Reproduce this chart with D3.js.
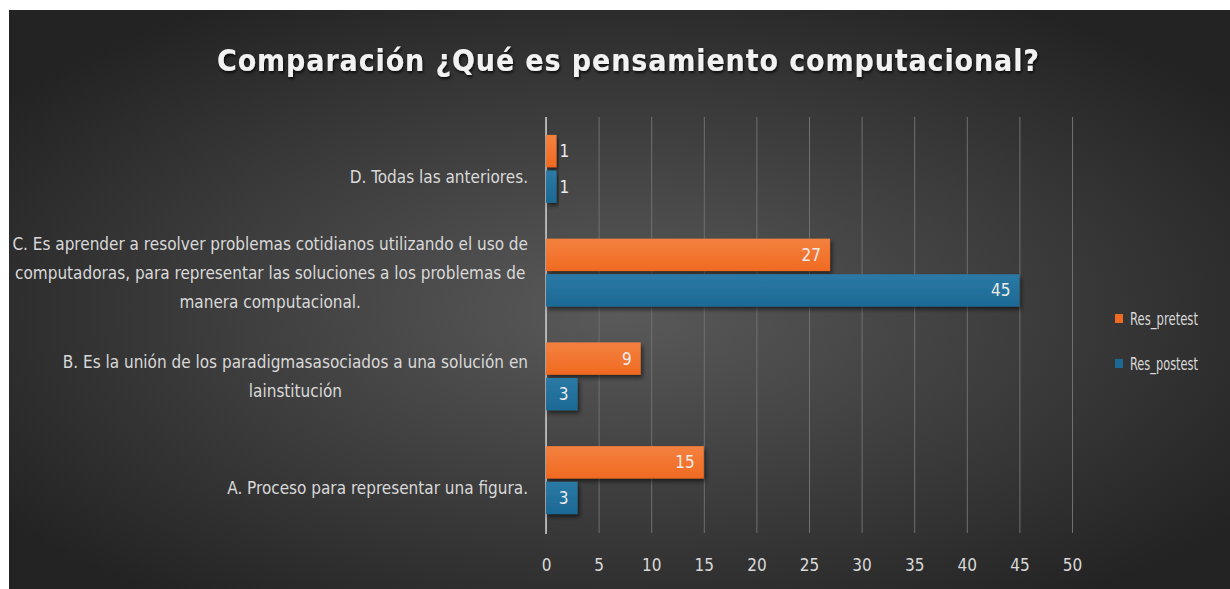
<!doctype html>
<html>
<head>
<meta charset="utf-8">
<script src="https://cdn.jsdelivr.net/npm/d3@7"></script>
<style>
  body { margin: 0; background: #fff; }
  svg text { font-family: "Liberation Sans Narrow", "DejaVu Sans Condensed", "Arial Narrow", sans-serif; }
</style>
</head>
<body>
<svg id="chart" width="1230" height="589"></svg>
<script>
// data
var categories = ["D. Todas las anteriores.",
  "C. Es aprender a resolver problemas cotidianos utilizando el uso de|computadoras, para representar las soluciones a los problemas de|manera computacional.",
  "B. Es la unión de los paradigmasasociados a una solución en|lainstitución",
  "A. Proceso para representar una figura."];
var seriesNames = ["Res_pretest", "Res_postest"];
var pretest = [1, 27, 9, 15];
var postest = [1, 45, 3, 3];
var xTicks = [0, 5, 10, 15, 20, 25, 30, 35, 40, 45, 50];
var colors = ["#f06a22", "#1c6994"];
var colorsLight = ["#f4813f", "#2b7aa6"];

var svg = d3.select("#chart");
var defs = svg.append("defs");

// background panel
var bg = defs.append("radialGradient").attr("id", "bg")
  .attr("cx", "50%").attr("cy", "52%").attr("r", "62%");
bg.append("stop").attr("offset", "0%").attr("stop-color", "#5a5a5a");
bg.append("stop").attr("offset", "100%").attr("stop-color", "#232323");
svg.append("rect").attr("x", 9).attr("y", 10).attr("width", 1221).attr("height", 579)
  .attr("fill", "url(#bg)");

seriesNames.forEach(function(s, i) {
  var g = defs.append("linearGradient").attr("id", "grad" + i)
    .attr("x1", 0).attr("y1", 0).attr("x2", 0).attr("y2", 1);
  g.append("stop").attr("offset", "0%").attr("stop-color", colorsLight[i]);
  g.append("stop").attr("offset", "100%").attr("stop-color", colors[i]);
});

var shadow = defs.append("filter").attr("id", "shadow")
  .attr("x", "-10%").attr("y", "-20%").attr("width", "130%").attr("height", "160%");
shadow.append("feDropShadow").attr("dx", 2).attr("dy", 3).attr("stdDeviation", 2)
  .attr("flood-color", "#000").attr("flood-opacity", 0.55);

var tshadow = defs.append("filter").attr("id", "tshadow");
tshadow.append("feDropShadow").attr("dx", 1).attr("dy", 2).attr("stdDeviation", 1.5)
  .attr("flood-color", "#000").attr("flood-opacity", 0.8);

// title
svg.append("text")
  .attr("x", 628).attr("y", 71)
  .attr("text-anchor", "middle")
  .attr("font-size", "30px")
  .attr("font-weight", "bold")
  .attr("fill", "#f2f2f2")
  .attr("textLength", 822).attr("lengthAdjust", "spacing")
  .attr("filter", "url(#tshadow)")
  .text("Comparación ¿Qué es pensamiento computacional?");

var x = d3.scaleLinear().domain([0, 50]).range([546, 1072]);
var y = d3.scaleBand().domain(categories).range([117, 532]).paddingInner(0.345).paddingOuter(0.1725);
var ySub = d3.scaleBand().domain(seriesNames).range([0, y.bandwidth()]).paddingInner(0.09);

// gridlines + axis labels
var xAxis = svg.append("g")
  .attr("transform", "translate(0,533)")
  .call(d3.axisBottom(x).tickValues(xTicks).tickSize(-416).tickPadding(26));
xAxis.select(".domain").remove();
xAxis.selectAll("line").attr("stroke", "#707070").attr("stroke-width", 1);
xAxis.selectAll("text").attr("fill", "#d9d9d9").attr("font-size", "17px")
  .style("font-family", "'Liberation Sans Narrow', 'DejaVu Sans Condensed', sans-serif");

// vertical axis line
svg.append("line").attr("x1", x(0)).attr("x2", x(0)).attr("y1", 117).attr("y2", 534)
  .attr("stroke", "#cfcfcf").attr("stroke-width", 1.5);

// category labels
var lineH = 29;
categories.forEach(function(c) {
  var lines = c.split("|");
  var cy = y(c) + y.bandwidth() / 2 + (lines.length === 1 ? 8 : 0);
  var t = svg.append("text")
    .attr("fill", "#d9d9d9").attr("font-size", "17px")
    .attr("text-anchor", "middle");
  // block right-aligned at x=528, lines centred in block
  var tmp = svg.append("text").attr("font-size", "17px");
  var maxW = 0;
  lines.forEach(function(l) { tmp.text(l); maxW = Math.max(maxW, tmp.node().getComputedTextLength()); });
  tmp.remove();
  var cx = 528 - maxW / 2;
  lines.forEach(function(l, i) {
    t.append("tspan").attr("x", cx)
      .attr("y", cy + (i - (lines.length - 1) / 2) * lineH + 6)
      .text(l);
  });
});

// bars
var series = [pretest, postest];
series.forEach(function(vals, si) {
  var g = svg.append("g");
  g.selectAll("rect").data(vals).enter().append("rect")
    .attr("x", x(0))
    .attr("y", function(d, i) { return y(categories[i]) + ySub(seriesNames[si]); })
    .attr("width", function(d) { return x(d) - x(0); })
    .attr("height", ySub.bandwidth())
    .attr("fill", "url(#grad" + si + ")")
    .attr("filter", "url(#shadow)");
  g.selectAll("text").data(vals).enter().append("text")
    .attr("x", function(d) { return d >= 3 ? x(d) - 9 : x(d) + 3; })
    .attr("y", function(d, i) { return y(categories[i]) + ySub(seriesNames[si]) + ySub.bandwidth() / 2 + 6; })
    .attr("text-anchor", function(d) { return d >= 3 ? "end" : "start"; })
    .attr("fill", "#ececec").attr("font-size", "17px")
    .text(function(d) { return d; });
});

// legend
var legend = svg.append("g");
seriesNames.forEach(function(s, i) {
  var ly = 319 + i * 45;
  legend.append("rect").attr("x", 1115).attr("y", ly - 5).attr("width", 8).attr("height", 9)
    .attr("fill", colors[i]);
  legend.append("text").attr("x", 1130).attr("y", ly + 6)
    .attr("fill", "#d9d9d9").attr("font-size", "17px")
    .attr("textLength", 68).attr("lengthAdjust", "spacingAndGlyphs")
    .text(s);
});
</script>
</body>
</html>
